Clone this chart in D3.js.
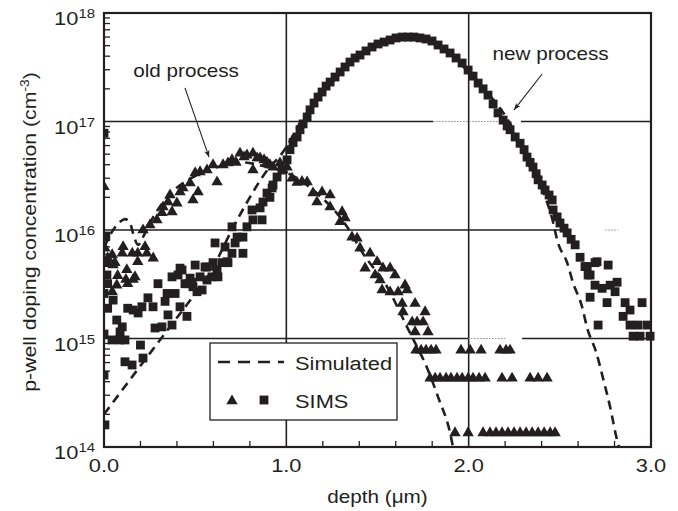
<!DOCTYPE html>
<html><head><meta charset="utf-8">
<script src="https://cdn.jsdelivr.net/npm/d3@7"></script>
<style>
body{margin:0;background:#fff}
svg{display:block}
text{font-family:"Liberation Sans",Arial,Helvetica,sans-serif;fill:#231f20}
</style></head><body>
<svg id="chart" width="678" height="511"></svg>
<script>
// ---------- data ----------
const xTickValues = [0, 1, 2, 3];
const xTickLabels = ["0.0", "1.0", "2.0", "3.0"];
const xMinorTicks = [0.2,0.4,0.6,0.8,1.2,1.4,1.6,1.8,2.2,2.4,2.6,2.8];
const yTickExponents = [14, 15, 16, 17, 18];
const xLabel = "depth (\u03bcm)";
const yLabel = "p-well doping concentration  (cm";
const legendLabels = ["Simulated", "SIMS"];

// simulated profile, old process (dashed)
const simOldDepth = [0, 0.05, 0.088, 0.115, 0.143, 0.159, 0.187, 0.214, 0.252, 0.346, 0.488, 0.62, 0.762, 0.894, 0.965, 1.146, 1.333, 1.42, 1.552, 1.662, 1.706, 1.761, 1.832, 1.903, 1.914];
const simOldConc  = [6.9e15, 1.0e16, 1.19e16, 1.26e16, 1.16e16, 9.4e15, 7.3e15, 8.6e15, 1.16e16, 2.0e16, 3.07e16, 3.8e16, 4.2e16, 3.8e16, 3.57e16, 2.34e16, 1.07e16, 6.1e15, 3.0e15, 1.28e15, 9.1e14, 5.9e14, 2.9e14, 1.24e14, 1.0e14];

// simulated profile, new process (dashed)
const simNewDepth = [0, 0.307, 0.5, 0.58, 0.71, 0.80, 0.87, 1.0, 1.075, 1.168, 1.278, 1.404, 1.552, 1.64, 1.77, 1.898, 1.997, 2.123, 2.216, 2.337, 2.42, 2.457, 2.49, 2.54, 2.573, 2.622, 2.65, 2.699, 2.737, 2.776, 2.814, 2.825];
const simNewConc  = [2.0e14, 9.7e14, 2.6e15, 4.0e15, 1.07e16, 2.0e16, 3.1e16, 5.8e16, 9.7e16, 1.58e17, 2.57e17, 4.27e17, 5.6e17, 6.0e17, 5.6e17, 4.3e17, 2.86e17, 1.68e17, 1.03e17, 3.8e16, 2.0e16, 1.29e16, 7.6e15, 5.0e15, 3.25e15, 1.96e15, 1.25e15, 7.5e14, 4.3e14, 2.33e14, 1.16e14, 1.0e14];

// SIMS, old process (triangles)
const simsOldDepth = [
  0.0, 0.005, 0.02, 0.045, 0.05, 0.045, 0.06, 0.07, 0.075, 0.10, 0.105, 0.12, 0.125, 0.13, 0.155, 0.16, 0.17, 0.185, 0.185, 0.225, 0.235, 0.27,
  0.214, 0.252, 0.29, 0.318, 0.324, 0.351, 0.362, 0.373, 0.40, 0.417, 0.433, 0.472, 0.488, 0.50, 0.516, 0.527, 0.565, 0.598, 0.62, 0.653, 0.68, 0.702, 0.724, 0.746, 0.768, 0.784, 0.817, 0.817, 0.84, 0.856, 0.878, 0.894, 0.91, 0.927, 0.965, 0.982,
  1.004, 1.031, 1.059, 1.086, 1.114, 1.146, 1.168, 1.196, 1.24, 1.24, 1.295, 1.306, 1.322, 1.36, 1.388, 1.404, 1.432, 1.459, 1.487, 1.498, 1.514, 1.525, 1.53, 1.569, 1.569, 1.596, 1.613, 1.635, 1.64, 1.651, 1.662, 1.69, 1.706, 1.706, 1.717, 1.75, 1.761, 1.777,
  1.711, 1.739, 1.766, 1.794, 1.821, 1.958, 2.008, 2.068, 2.172, 2.205, 2.227,
  1.788, 1.816, 1.843, 1.876, 1.903, 1.936, 1.964, 1.997, 2.024, 2.057, 2.09, 2.183, 2.238, 2.337, 2.381, 2.43,
  1.925, 1.997, 2.079, 2.117, 2.15, 2.183, 2.216, 2.249, 2.282, 2.315, 2.348, 2.381, 2.414, 2.447, 2.474
];
const simsOldConc = [
  2.5e16, 6.8e15, 5.5e15, 5.9e15, 4.75e15, 2.7e15, 5.0e15, 3.1e15, 3.8e15, 6.1e15, 7.0e15, 3.5e15, 4.3e15, 3.2e15, 6.1e15, 3.5e15, 3.7e15, 6.1e15, 5.1e15, 7.0e15, 6.1e15, 5.5e15,
  1.0e16, 1.11e16, 1.24e16, 1.44e16, 1.63e16, 1.81e16, 2.1e16, 1.47e16, 1.77e16, 2.24e16, 2.44e16, 2.71e16, 1.89e16, 3.36e16, 2.24e16, 3.43e16, 3.57e16, 3.98e16, 2.77e16, 3.98e16, 4.15e16, 4.43e16, 4.2e16, 5.1e16, 4.7e16, 4.9e16, 5.1e16, 3.57e16, 4.6e16, 4.6e16, 4.43e16, 4.2e16, 3.98e16, 3.8e16, 4.15e16, 3.57e16,
  3.8e16, 3.0e16, 2.74e16, 2.8e16, 2.77e16, 2.19e16, 1.81e16, 2.24e16, 2.1e16, 1.63e16, 1.19e16, 1.47e16, 1.29e16, 8.6e15, 8.4e15, 6.8e15, 4.45e15, 6.1e15, 3.85e15, 5.1e15, 3.46e15, 2.8e15, 4.45e15, 4.45e15, 2.68e15, 3.85e15, 2.68e15, 2.1e15, 1.76e15, 3.1e15, 2.8e15, 1.42e15, 2.1e15, 1.15e15, 1.42e15, 1.42e15, 1.76e15, 1.15e15,
  7.8e14, 7.8e14, 7.8e14, 7.8e14, 7.8e14, 7.8e14, 7.8e14, 7.8e14, 7.8e14, 7.8e14, 7.8e14,
  4.3e14, 4.3e14, 4.3e14, 4.3e14, 4.3e14, 4.3e14, 4.3e14, 4.3e14, 4.3e14, 4.3e14, 4.3e14, 4.3e14, 4.3e14, 4.3e14, 4.3e14, 4.3e14,
  1.35e14, 1.35e14, 1.35e14, 1.35e14, 1.35e14, 1.35e14, 1.35e14, 1.35e14, 1.35e14, 1.35e14, 1.35e14, 1.35e14, 1.35e14, 1.35e14, 1.35e14
];

// SIMS, new process (squares)
const simsNewDepth = [
  0.0, 0.01, 0.016, 0.016, 0.02, 0.0, 0.05, 0.02, 0.07, 0.10, 0.088, 0.0, 0.13, 0.16, 0.187, 0.208, 0.241, 0.269, 0.296, 0.28, 0.318, 0.335, 0.346, 0.351, 0.373, 0.373, 0.39, 0.406, 0.417, 0.417, 0.428, 0.444, 0.455, 0.461, 0.472, 0.483, 0.488, 0.50, 0.51, 0.527, 0.538, 0.554, 0.565, 0.565, 0.592, 0.598, 0.609, 0.62, 0.625, 0.647, 0.664, 0.675, 0.68, 0.702, 0.702, 0.719, 0.73, 0.762, 0.762, 0.784, 0.812, 0.817, 0.856, 0.867, 0.872, 0.894, 0.91, 0.922, 0.927, 0.949, 0.976, 1.004, 1.02, 1.037,
  0.044, 0.088, 0.115, 0.2, 0.115, 0.154, 0.214, 0.0, 0.005,
  1.059, 1.075, 1.092, 1.114, 1.13, 1.152, 1.174, 1.196, 1.218, 1.24, 1.267, 1.295, 1.322, 1.349, 1.377, 1.404, 1.437, 1.47, 1.503, 1.536, 1.569, 1.602, 1.635, 1.668, 1.70, 1.733, 1.766, 1.799, 1.832, 1.865, 1.898, 1.931, 1.964, 1.997, 2.024, 2.052, 2.079, 2.106, 2.134, 2.161, 2.189, 2.211, 2.227, 2.255, 2.282, 2.304, 2.32, 2.337, 2.353, 2.37, 2.381, 2.403, 2.419, 2.441, 2.458, 2.463, 2.485, 2.501, 2.523, 2.54, 2.562, 2.584, 2.611, 2.65, 2.666,
  2.638, 2.693, 2.704, 2.765, 2.655, 2.693, 2.732, 2.776, 2.814, 2.803, 2.666, 2.759, 2.858, 2.885, 2.951, 2.847, 2.71, 2.885, 2.929, 2.979, 2.902, 2.94, 2.995
];
const simsNewConc = [
  7.8e16, 8.8e15, 5.0e15, 3.85e15, 3.2e15, 2.6e15, 2.26e15, 1.9e15, 1.48e15, 1.28e15, 1.15e15, 1.1e15, 1.9e15, 1.83e15, 1.72e15, 1.96e15, 2.37e15, 1.96e15, 3.2e15, 1.25e15, 1.28e15, 2.2e15, 2.6e15, 1.65e15, 1.33e15, 3.7e15, 2.6e15, 3.85e15, 1.96e15, 4.45e15, 4.28e15, 3.2e15, 1.6e15, 3.2e15, 3.6e15, 3.3e15, 3.0e15, 4.75e15, 2.7e15, 3.7e15, 2.8e15, 4.56e15, 4.56e15, 3.46e15, 3.7e15, 5.0e15, 7.6e15, 4.28e15, 3.7e15, 5.0e15, 6.97e15, 5.1e15, 5.0e15, 6.1e15, 1.07e16, 7.6e15, 8.6e15, 8.6e15, 6.1e15, 1.07e16, 1.53e16, 1.24e16, 1.6e16, 1.24e16, 1.81e16, 2.19e16, 2.0e16, 2.44e16, 2.6e16, 3.08e16, 3.57e16, 4.43e16, 5.5e16, 6.4e16,
  9.7e14, 9.7e14, 9.7e14, 8.7e14, 6.1e14, 5.7e14, 6.6e14, 4.6e14, 1.6e14,
  7.2e16, 8.4e16, 9.5e16, 1.1e17, 1.28e17, 1.48e17, 1.68e17, 1.87e17, 2.12e17, 2.31e17, 2.57e17, 2.86e17, 3.18e17, 3.53e17, 3.85e17, 4.1e17, 4.47e17, 4.86e17, 5.18e17, 5.4e17, 5.64e17, 5.89e17, 6.0e17, 6.0e17, 6.0e17, 5.89e17, 5.76e17, 5.52e17, 5.07e17, 4.66e17, 4.28e17, 3.85e17, 3.46e17, 2.98e17, 2.62e17, 2.26e17, 2.0e17, 1.75e17, 1.45e17, 1.2e17, 1.03e17, 9.1e16, 8.4e16, 7.2e16, 6.3e16, 5.5e16, 4.7e16, 4.2e16, 3.8e16, 3.3e16, 2.9e16, 2.6e16, 2.34e16, 2.1e16, 1.89e16, 1.53e16, 1.32e16, 1.16e16, 1.04e16, 9.4e15, 8.2e15, 7.3e15, 5.6e15, 4.6e15, 3.85e15,
  4.6e15, 5.0e15, 5.1e15, 4.75e15, 3.85e15, 3.1e15, 2.9e15, 3.1e15, 3.3e15, 2.7e15, 2.4e15, 2.14e15, 2.14e15, 1.83e15, 2.14e15, 1.6e15, 1.33e15, 1.33e15, 1.33e15, 1.33e15, 1.05e15, 1.05e15, 1.05e15
];

// annotations (data coordinates)
const annoText   = ["old process", "new process"];
const annoTextX  = [0.45, 2.449];
const annoTextY  = [2.57e17, 3.69e17];
const arrowFromX = [0.444, 2.403];
const arrowFromY = [2.04e17, 2.74e17];
const arrowToX   = [0.576, 2.249];
const arrowToY   = [4.7e16, 1.28e17];

// ---------- chart ----------
const ink = "#231f20";
const svg = d3.select("#chart");
const M = {left: 104, right: 651, top: 13, bottom: 447};
const x = d3.scaleLinear().domain([0, 3]).range([M.left, M.right]);
const y = d3.scaleLog().domain([1e14, 1e18]).range([M.bottom, M.top]);
const SX = 1.15; // horizontal glyph stretch of the reference typeface

function txt(parent, px, py, size, anchor, rot) {
  return parent.append("text")
    .attr("transform", `translate(${px},${py}) rotate(${rot||0}) scale(${SX},1)`)
    .attr("text-anchor", anchor)
    .style("font-size", size + "px");
}

svg.append("defs").append("clipPath").attr("id", "clip")
  .append("rect").attr("x", M.left).attr("y", M.top - 5)
  .attr("width", M.right - M.left + 8).attr("height", M.bottom - M.top + 5);

// gridlines
const grid = svg.append("g").attr("stroke", ink).attr("stroke-width", 1.6);
[1, 2].forEach(v => grid.append("line").attr("x1", x(v)).attr("x2", x(v)).attr("y1", M.top).attr("y2", M.bottom));
const gridSolid = [[1e17, 0, 1.805], [1e17, 2.287, 3], [1e16, 0, 2.53], [1e15, 0, 1.997], [1e15, 2.293, 3]];
const gridDotted = [[1e17, 1.805, 2.172], [1e15, 1.997, 2.2], [1e16, 2.75, 2.82]];
gridSolid.forEach(s => grid.append("line").attr("x1", x(s[1])).attr("x2", x(s[2])).attr("y1", y(s[0])).attr("y2", y(s[0])));
gridDotted.forEach(s => grid.append("line").attr("x1", x(s[1])).attr("x2", x(s[2])).attr("y1", y(s[0])).attr("y2", y(s[0]))
  .attr("stroke", "#888").attr("stroke-width", 1).attr("stroke-dasharray", "1.5,1.5"));

// minor ticks
const ticks = svg.append("g").attr("stroke", ink).attr("stroke-width", 1.3);
xMinorTicks.forEach(v => ticks.append("line").attr("x1", x(v)).attr("x2", x(v)).attr("y1", M.bottom).attr("y2", M.bottom - 6));
yTickExponents.slice(0, -1).forEach(e => {
  for (let m = 2; m <= 9; m++) {
    const v = m * Math.pow(10, e);
    ticks.append("line").attr("x1", M.left).attr("x2", M.left + 6).attr("y1", y(v)).attr("y2", y(v));
  }
});

// frame
svg.append("rect").attr("x", M.left).attr("y", M.top).attr("width", M.right - M.left).attr("height", M.bottom - M.top)
  .attr("fill", "none").attr("stroke", ink).attr("stroke-width", 2.2);

// tick labels
xTickValues.forEach((v, i) => txt(svg, x(v), 472, 19, "middle").text(xTickLabels[i]));
yTickExponents.forEach(e => {
  const t = txt(svg, 95, y(Math.pow(10, e)) + 12, 19, "end");
  t.append("tspan").text("10");
  t.append("tspan").attr("dy", -7).style("font-size", "13px").text(String(e));
});

// axis titles
txt(svg, (M.left + M.right) / 2, 503, 18, "middle").text(xLabel);
const yl = txt(svg, 36, 232, 18.5, "middle", -90);
yl.append("tspan").text(yLabel);
yl.append("tspan").attr("dy", -7).style("font-size", "12px").text("-3");
yl.append("tspan").attr("dy", 7).text(")");

// plotted data
const plot = svg.append("g").attr("clip-path", "url(#clip)");
const line = d3.line().x(d => x(d[0])).y(d => y(d[1])).curve(d3.curveMonotoneX);
[[simOldDepth, simOldConc], [simNewDepth, simNewConc]].forEach(([dx, dy]) => {
  plot.append("path").datum(dx.map((v, i) => [v, dy[i]]))
    .attr("d", line).attr("fill", "none").attr("stroke", ink)
    .attr("stroke-width", 2.6).attr("stroke-dasharray", "9,6");
});
const tri = d3.symbol().type(d3.symbolTriangle).size(56);
const sq = d3.symbol().type(d3.symbolSquare).size(78);
plot.append("g").selectAll("path").data(simsOldDepth.map((v, i) => [v, simsOldConc[i]])).join("path")
  .attr("d", tri).attr("transform", d => `translate(${x(d[0])},${y(d[1])})`).attr("fill", ink);
plot.append("g").selectAll("path").data(simsNewDepth.map((v, i) => [v, simsNewConc[i]])).join("path")
  .attr("d", sq).attr("transform", d => `translate(${x(d[0])},${y(d[1])})`).attr("fill", ink);

// annotations
svg.select("defs").append("marker").attr("id", "arr").attr("viewBox", "0 0 10 10").attr("refX", 10).attr("refY", 5)
  .attr("markerWidth", 10).attr("markerHeight", 7).attr("markerUnits", "userSpaceOnUse").attr("orient", "auto")
  .append("path").attr("d", "M0,1 L10,5 L0,9 L3,5 Z").attr("fill", ink);
annoText.forEach((t, i) => {
  txt(svg, x(annoTextX[i]), y(annoTextY[i]), 18, "middle").text(t);
  svg.append("line").attr("x1", x(arrowFromX[i])).attr("y1", y(arrowFromY[i]))
    .attr("x2", x(arrowToX[i])).attr("y2", y(arrowToY[i]))
    .attr("stroke", ink).attr("stroke-width", 1.1).attr("marker-end", "url(#arr)");
});

// legend
const lg = svg.append("g");
lg.append("rect").attr("x", 210).attr("y", 343).attr("width", 187).attr("height", 77)
  .attr("fill", "#fff").attr("stroke", ink).attr("stroke-width", 1.3);
lg.append("line").attr("x1", 218).attr("x2", 284).attr("y1", 362).attr("y2", 362)
  .attr("stroke", ink).attr("stroke-width", 2.6).attr("stroke-dasharray", "12,8");
txt(lg, 295, 370, 19, "start").text(legendLabels[0]);
lg.append("path").attr("d", tri).attr("transform", "translate(232,401)").attr("fill", ink);
lg.append("path").attr("d", sq).attr("transform", "translate(264,400)").attr("fill", ink);
txt(lg, 295, 408, 19, "start").text(legendLabels[1]);
</script>
</body></html>
